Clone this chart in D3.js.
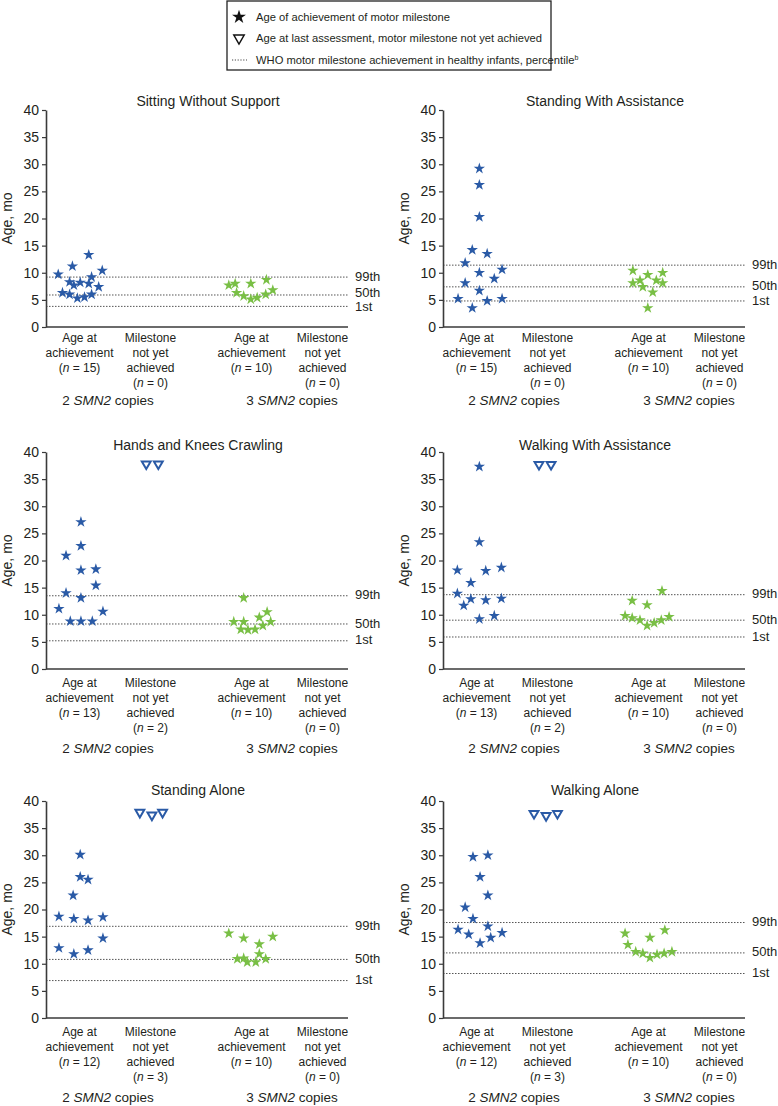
<!DOCTYPE html>
<html><head><meta charset="utf-8">
<script src="https://cdn.jsdelivr.net/npm/d3@7"></script>
<style>
body{margin:0;background:#fff;}
svg{display:block;font-family:"Liberation Sans",Arial,Helvetica,sans-serif;}
</style>
</head><body><div id="chart"></div>
<script>
// ---------- data ----------
const milestones = ["Sitting Without Support", "Standing With Assistance", "Hands and Knees Crawling",
                    "Walking With Assistance", "Standing Alone", "Walking Alone"];
const groups = ["2", "3"];              // SMN2 copy number
const columns = ["achieved", "notYet"];
const yTicks = [0, 5, 10, 15, 20, 25, 30, 35, 40];
const percentileLabels = ["99th", "50th", "1st"];
const whoP99 = [9.2, 11.4, 13.5, 13.7, 16.9, 17.6];
const whoP50 = [5.9, 7.4, 8.3, 9.0, 10.8, 12.0];
const whoP1  = [3.8, 4.8, 5.2, 5.9, 6.9, 8.2];
const nAchieved2 = [15, 15, 13, 13, 12, 12];
const nNotYet2   = [0, 0, 2, 2, 3, 3];
const nAchieved3 = [10, 10, 10, 10, 10, 10];
const nNotYet3   = [0, 0, 0, 0, 0, 0];

// each point: [horizontal jitter (tenths of a column step), age in months]
const sitting2 = [[-3.0,9.7],[-2.4,6.3],[-1.4,6.0],[-1.4,8.3],[-1.0,11.2],[-0.8,7.7],[-0.3,5.3],[0.1,8.2],[0.7,5.5],[1.3,13.3],[1.3,8.0],[1.7,9.2],[1.7,6.0],[2.7,7.4],[3.2,10.4]];
const sittingNotYet2 = [];
const sitting3 = [[-3.2,7.7],[-2.3,8.0],[-2.1,6.3],[-1.1,5.7],[-0.1,8.0],[-0.1,5.1],[0.8,5.4],[2.0,6.0],[2.1,8.7],[3.0,6.8]];

const standAssist2 = [[-2.6,5.2],[-1.6,11.8],[-1.6,8.1],[-0.6,14.2],[-0.6,3.5],[0.4,29.2],[0.4,26.2],[0.4,20.3],[0.4,10.0],[0.4,6.7],[1.5,13.5],[1.5,4.8],[2.5,8.9],[3.6,10.6],[3.6,5.2]];
const standAssistNotYet2 = [];
const standAssist3 = [[-2.2,10.4],[-2.2,8.1],[-1.2,8.6],[-0.8,7.4],[-0.1,9.6],[-0.1,3.5],[0.6,6.4],[1.1,8.6],[2.0,10.0],[2.0,8.1]];

const crawling2 = [[0.2,27.1],[0.2,22.7],[-1.9,20.9],[2.3,18.4],[0.2,18.2],[2.3,15.4],[-1.9,14.0],[-2.9,11.1],[0.2,13.1],[3.3,10.6],[-1.3,8.8],[0.2,8.8],[1.8,8.8]];
const crawlingNotYet2 = [[-0.6,37.8],[1.1,37.8]];
const crawling3 = [[-1.1,13.1],[-2.5,8.7],[-1.1,8.7],[-1.5,7.3],[-0.5,7.2],[0.5,7.3],[1.6,8.0],[1.1,9.5],[2.2,10.5],[2.7,8.7]];

const walkAssist2 = [[0.4,37.3],[0.4,23.4],[-2.7,18.2],[1.3,18.1],[3.5,18.7],[-0.8,15.9],[-2.7,13.9],[-0.8,12.9],[1.3,12.7],[3.5,13.0],[-1.8,11.7],[0.4,9.2],[2.5,9.8]];
const walkAssistNotYet2 = [[-1.2,37.7],[0.5,37.7]];
const walkAssist3 = [[1.9,14.4],[-2.3,12.6],[-0.2,11.8],[-3.3,9.8],[-2.3,9.4],[-1.2,9.0],[-0.2,8.0],[0.8,8.5],[1.8,9.0],[2.9,9.6]];

const standAlone2 = [[0.1,30.1],[0.1,26.0],[1.2,25.5],[-0.9,22.6],[-2.9,18.7],[-0.8,18.3],[1.2,18.0],[3.3,18.6],[3.3,14.7],[-2.9,12.9],[-0.8,11.8],[1.2,12.5]];
const standAloneNotYet2 = [[-1.5,37.9],[0.2,37.4],[1.7,37.9]];
const standAlone3 = [[-3.2,15.6],[-1.1,14.7],[3.0,15.0],[1.1,13.6],[1.1,11.8],[-2.0,10.9],[-1.1,11.0],[-0.6,10.3],[0.6,10.3],[2.0,10.9]];

const walkAlone2 = [[-0.5,29.7],[1.6,30.0],[0.5,26.0],[1.6,22.6],[-1.6,20.4],[-0.5,18.3],[1.6,16.9],[-2.6,16.3],[-1.1,15.4],[3.6,15.7],[2.0,14.8],[0.5,13.8]];
const walkAloneNotYet2 = [[-1.9,37.7],[-0.2,37.3],[1.4,37.7]];
const walkAlone3 = [[-3.3,15.6],[0.2,14.8],[2.3,16.2],[-2.9,13.5],[-1.8,12.2],[-0.8,11.9],[0.2,11.1],[1.2,11.7],[2.2,11.9],[3.3,12.2]];

const achieved2 = [sitting2, standAssist2, crawling2, walkAssist2, standAlone2, walkAlone2];
const notYet2   = [sittingNotYet2, standAssistNotYet2, crawlingNotYet2, walkAssistNotYet2, standAloneNotYet2, walkAloneNotYet2];
const achieved3 = [sitting3, standAssist3, crawling3, walkAssist3, standAlone3, walkAlone3];

// ---------- layout & style ----------
const BLUE = "#2a5aa6", GREEN = "#79bf45", TXT = "#231f20", AXIS = "#3a3a3a";
const W = 302, H = 217;
const colX = [46, 443];
const rowTop = [110, 452, 801];
const titleDy = [-9, -7, -11];
const titleDx = [162, 152, 152];
const labelDy = [15, 18, 18];
const groupDy = [78, 84, 84];

const svg = d3.select("#chart").append("svg").attr("width", 778).attr("height", 1106);

// ---------- legend ----------
const lg = svg.append("g");
lg.append("rect").attr("x", 227).attr("y", 1).attr("width", 324).attr("height", 69)
  .attr("fill", "none").attr("stroke", "#222").attr("stroke-width", 1.3);
lg.append("path").attr("d", d3.symbol(d3.symbolStar, 60)())
  .attr("transform", "translate(239,17)").attr("fill", "#111");
lg.append("path").attr("d", d3.symbol(d3.symbolTriangle, 48)())
  .attr("transform", "translate(239,38) rotate(180)").attr("fill", "none").attr("stroke", "#111").attr("stroke-width", 1.4);
lg.append("line").attr("x1", 232).attr("x2", 247).attr("y1", 60).attr("y2", 60)
  .attr("stroke", "#444").attr("stroke-width", 1).attr("stroke-dasharray", "1.2,1.6");
const legendTexts = ["Age of achievement of motor milestone",
                     "Age at last assessment, motor milestone not yet achieved",
                     "WHO motor milestone achievement in healthy infants, percentile"];
legendTexts.forEach((t, i) => {
  const tx = lg.append("text").attr("x", 256).attr("y", [17, 38.5, 60][i]).attr("dy", "0.35em")
    .attr("font-size", 11.2).attr("fill", TXT).text(t);
  if (i === 2) tx.append("tspan").attr("font-size", 7).attr("dy", "-4").text("b");
});

// ---------- panels ----------
milestones.forEach((name, i) => {
  const c = i % 2, r = Math.floor(i / 2);
  const g = svg.append("g").attr("transform", `translate(${colX[c]},${rowTop[r]})`);
  const y = d3.scaleLinear().domain([0, 40]).range([H, 0]);
  const outer = d3.scaleBand().domain(groups).range([4, W + 4]).paddingInner(0.3).paddingOuter(0.028);
  const inner = d3.scalePoint().domain(columns).range([0, outer.bandwidth()]).padding(0.348);
  const jit = d3.scaleLinear().domain([0, 10]).range([0, inner.step()]);
  const cx = (grp, col) => outer(grp) + inner(col);

  // title
  g.append("text").attr("x", titleDx[r]).attr("y", titleDy[r]).attr("dy", "0.35em").attr("text-anchor", "middle")
    .attr("font-size", 14).attr("fill", TXT).text(name);

  // reference lines
  const refs = [whoP99[i], whoP50[i], whoP1[i]];
  const labelY = refs.map(v => y(v) - 1);
  // keep percentile labels from colliding (top to bottom)
  const minGap = 14;
  for (let k = 1; k < labelY.length; k++) {
    const gap = labelY[k] - labelY[k - 1];
    if (gap < minGap) {
      const push = (minGap - gap) / 2;
      labelY[k - 1] -= push; labelY[k] += push;
    }
  }
  refs.forEach((v, k) => {
    g.append("line").attr("x1", 0).attr("x2", W).attr("y1", y(v)).attr("y2", y(v))
      .attr("stroke", "#555").attr("stroke-width", 1).attr("stroke-dasharray", "1.5,1.5");
    g.append("text").attr("x", W + 7).attr("y", labelY[k]).attr("dy", "0.35em")
      .attr("font-size", 13).attr("fill", TXT).text(percentileLabels[k]);
  });

  // y axis
  const ya = g.append("g").call(d3.axisLeft(y).tickValues(yTicks).tickSize(4).tickSizeOuter(0).tickPadding(3));
  ya.select(".domain").attr("stroke", AXIS).attr("stroke-width", 1.6);
  ya.selectAll(".tick line").attr("stroke", AXIS).attr("stroke-width", 1.2);
  ya.selectAll(".tick text").attr("font-size", 14).attr("fill", TXT).attr("font-family", "Liberation Sans, Arial, sans-serif");
  // x axis baseline
  g.append("line").attr("x1", 0).attr("x2", W).attr("y1", y(0)).attr("y2", y(0))
    .attr("stroke", AXIS).attr("stroke-width", 1.6);

  // y axis title
  g.append("text").attr("transform", `translate(-39,${H / 2}) rotate(-90)`).attr("text-anchor", "middle")
    .attr("dy", "0.35em").attr("font-size", 14).attr("fill", TXT).text("Age, mo");

  // points
  const star = d3.symbol(d3.symbolStar, 40)();
  const tri = d3.symbol(d3.symbolTriangle, 34)();
  g.selectAll(".s2").data(achieved2[i]).join("path").attr("d", star)
    .attr("transform", d => `translate(${cx("2", "achieved") + jit(d[0])},${y(d[1])})`).attr("fill", BLUE);
  g.selectAll(".s3").data(achieved3[i]).join("path").attr("d", star)
    .attr("transform", d => `translate(${cx("3", "achieved") + jit(d[0])},${y(d[1])})`).attr("fill", GREEN);
  g.selectAll(".t2").data(notYet2[i]).join("path").attr("d", tri)
    .attr("transform", d => `translate(${cx("2", "notYet") + jit(d[0])},${y(d[1])}) rotate(180)`)
    .attr("fill", "#fff").attr("stroke", BLUE).attr("stroke-width", 2);

  // category labels
  const counts = {"2": [nAchieved2[i], nNotYet2[i]], "3": [nAchieved3[i], nNotYet3[i]]};
  groups.forEach(grp => {
    columns.forEach((col, ci) => {
      const lines = ci === 0 ? ["Age at", "achievement"] : ["Milestone", "not yet", "achieved"];
      const t = g.append("text").attr("text-anchor", "middle").attr("font-size", 12).attr("fill", TXT);
      const x = cx(grp, col);
      lines.forEach((ln, li) => t.append("tspan").attr("x", x).attr("y", y(0) + labelDy[r] + li * 15).text(ln));
      const nt = t.append("tspan").attr("x", x).attr("y", y(0) + labelDy[r] + lines.length * 15);
      nt.append("tspan").text("(");
      nt.append("tspan").attr("font-style", "italic").text("n");
      nt.append("tspan").text(" = " + counts[grp][ci] + ")");
    });
    const gx = outer(grp) + outer.bandwidth() / 2 + (grp === "2" ? (c === 0 ? -7 : 2) : 5);
    const gt = g.append("text").attr("x", gx).attr("y", y(0) + groupDy[r]).attr("text-anchor", "middle")
      .attr("font-size", 13.5).attr("fill", TXT);
    gt.append("tspan").text(grp + " ");
    gt.append("tspan").attr("font-style", "italic").text("SMN2");
    gt.append("tspan").text(" copies");
  });
});
</script>
</body></html>
